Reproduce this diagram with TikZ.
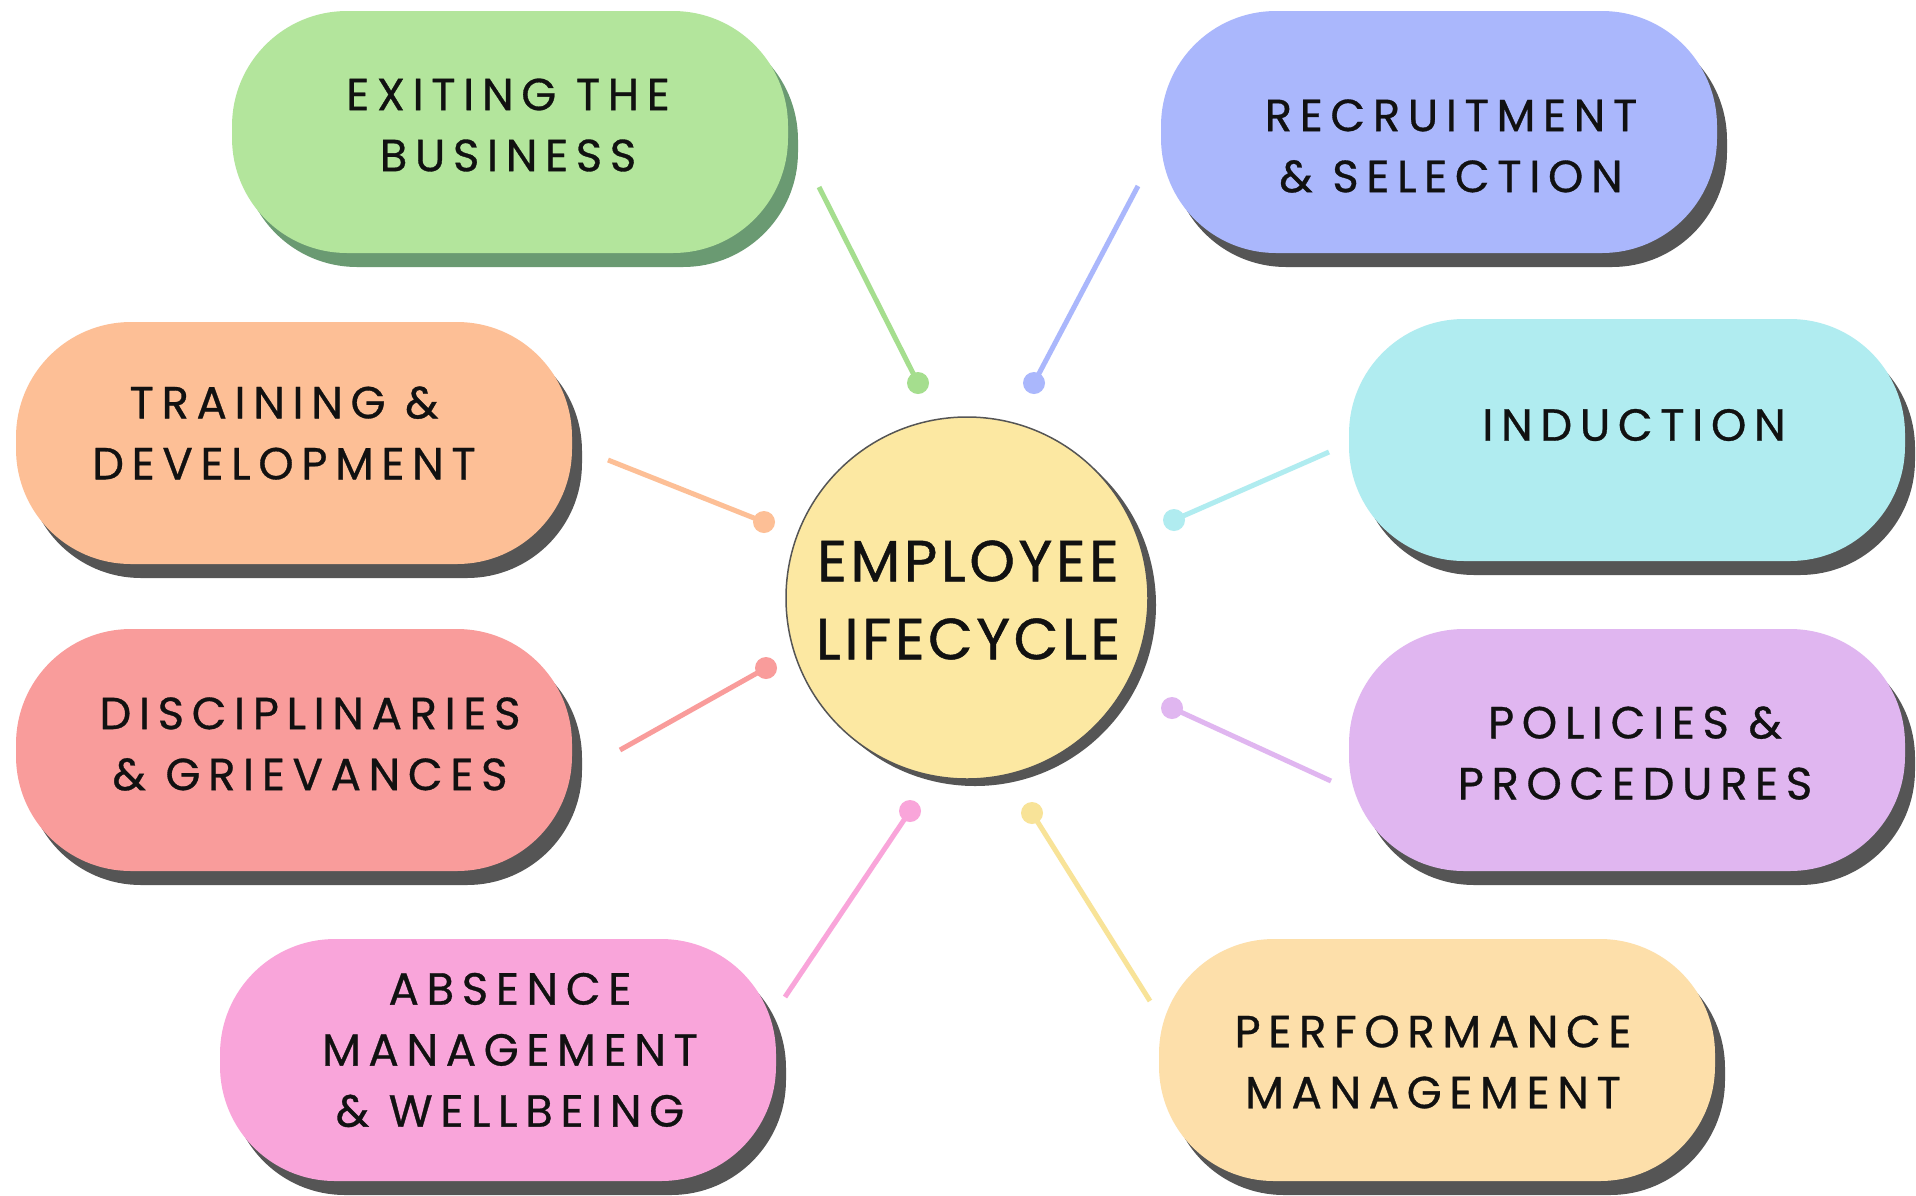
\documentclass[tikz,border=0pt]{standalone}
\usepackage{fontspec}
\setmainfont{Poppins}
\newfontfamily\boxfont[LetterSpace=17,FakeBold=0.7]{Poppins}
\newfontfamily\ctrfont[LetterSpace=6,FakeBold=0.8]{Poppins}
\definecolor{cgreen}{HTML}{B3E59C}
\definecolor{lgreen}{HTML}{A5DE8E}
\definecolor{cgreensh}{HTML}{6A9A72}
\definecolor{cblue}{HTML}{AAB7FC}
\definecolor{corange}{HTML}{FDBF96}
\definecolor{ccyan}{HTML}{B0ECF0}
\definecolor{cred}{HTML}{F99C9B}
\definecolor{cpurple}{HTML}{E0B6F0}
\definecolor{cpink}{HTML}{F9A5DA}
\definecolor{cpeach}{HTML}{FDDFAA}
\definecolor{cyellow}{HTML}{FCE8A2}
\definecolor{lyellow}{HTML}{F8E398}
\definecolor{shgray}{HTML}{555555}
\definecolor{txt}{HTML}{111111}
\begin{document}
\begin{tikzpicture}[x=1pt,y=-1pt,
  pill/.style={rectangle, rounded corners=115pt, minimum width=556pt, minimum height=242pt, inner sep=0pt},
  pillsh/.style={pill, fill=shgray, xshift=10pt, yshift=-14pt},
  lbl/.style={align=center, text=txt, font=\boxfont\fontsize{45}{61}\selectfont, inner sep=0pt},
  dotnode/.style={circle, minimum size=22pt, inner sep=0pt},
  conn/.style={line width=5pt}]
\useasboundingbox (0,0) rectangle (1916,1195);
\fill[white] (0,0) rectangle (1916,1195);

% shadows
\node[pillsh, fill=cgreensh] (s1) at (510,132) {};
\node[pillsh] (s2) at (1439,132) {};
\node[pillsh] (s3) at (294,443) {};
\node[pillsh] (s4) at (1627,440) {};
\node[pillsh] (s5) at (294,750) {};
\node[pillsh] (s6) at (1627,750) {};
\node[pillsh] (s7) at (498,1060) {};
\node[pillsh] (s8) at (1437,1060) {};

% boxes
\node[pill, fill=cgreen] (b1) at (510,132) {};
\node[pill, fill=cblue] (b2) at (1439,132) {};
\node[pill, fill=corange] (b3) at (294,443) {};
\node[pill, fill=ccyan] (b4) at (1627,440) {};
\node[pill, fill=cred] (b5) at (294,750) {};
\node[pill, fill=cpurple] (b6) at (1627,750) {};
\node[pill, fill=cpink] (b7) at (498,1060) {};
\node[pill, fill=cpeach] (b8) at (1437,1060) {};

% labels
\node[lbl] (t1) at (508,125) {EXITING THE\\BUSINESS};
\node[lbl] (t2) at (1451,146) {RECRUITMENT\\\& SELECTION};
\node[lbl] (t3) at (284,433) {TRAINING \&\\DEVELOPMENT};
\node[lbl] (t4) at (1634,425) {INDUCTION};
\node[lbl] (t5) at (310,744) {DISCIPLINARIES\\\& GRIEVANCES};
\node[lbl] (t6) at (1635,753) {POLICIES \&\\PROCEDURES};
\node[lbl] (t7) at (510,1050) {ABSENCE\\MANAGEMENT\\\& WELLBEING};
\node[lbl] (t8) at (1433,1062) {PERFORMANCE\\MANAGEMENT};

% center
\node[circle, minimum size=362pt, fill=shgray, inner sep=0pt] (cs) at (975,605) {};
\node[circle, minimum size=362pt, fill=cyellow, draw=shgray, line width=1.5pt, inner sep=0pt] (c) at (967,598) {};
\node[align=center, text=txt, font=\ctrfont\fontsize{58}{78}\selectfont, inner sep=0pt] (ct) at (968,600) {EMPLOYEE\\LIFECYCLE};

% connector ends
\coordinate (e1) at (819,187);
\coordinate (e2) at (1138,186);
\coordinate (e3) at (608,460);
\coordinate (e4) at (1329,452);
\coordinate (e5) at (620,750);
\coordinate (e6) at (1331,781);
\coordinate (e7) at (785,997);
\coordinate (e8) at (1150,1001);

\node[dotnode, fill=lgreen] (d1) at (918,383) {};
\node[dotnode, fill=cblue] (d2) at (1034,383) {};
\node[dotnode, fill=corange] (d3) at (764,522) {};
\node[dotnode, fill=ccyan] (d4) at (1174,520) {};
\node[dotnode, fill=cred] (d5) at (766,668) {};
\node[dotnode, fill=cpurple] (d6) at (1172,708) {};
\node[dotnode, fill=cpink] (d7) at (910,811) {};
\node[dotnode, fill=lyellow] (d8) at (1032,813) {};

\draw[conn, lgreen] (e1) -- (d1.center);
\draw[conn, cblue] (e2) -- (d2.center);
\draw[conn, corange] (e3) -- (d3.center);
\draw[conn, ccyan] (e4) -- (d4.center);
\draw[conn, cred] (e5) -- (d5.center);
\draw[conn, cpurple] (e6) -- (d6.center);
\draw[conn, cpink] (e7) -- (d7.center);
\draw[conn, lyellow] (e8) -- (d8.center);
\end{tikzpicture}
\end{document}
